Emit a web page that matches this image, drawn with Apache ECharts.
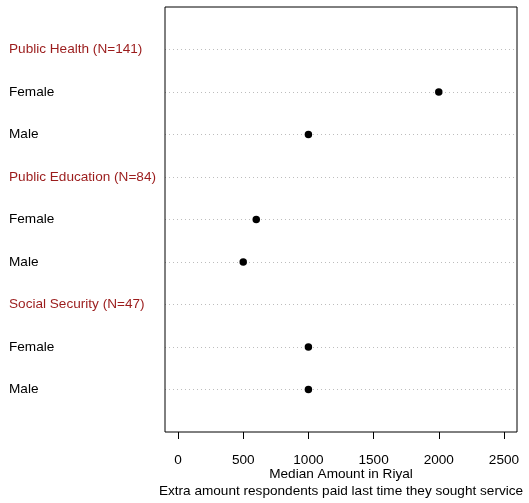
<!DOCTYPE html>
<html>
<head>
<meta charset="utf-8">
<script src="https://cdn.jsdelivr.net/npm/echarts@6/dist/echarts.min.js"></script>
<style>html,body{margin:0;padding:0;background:#fff;}#c{width:529px;height:503px;}</style>
</head>
<body>
<div id="c"></div>
<script>
const groups = ['Public Health (N=141)', 'Public Education (N=84)', 'Social Security (N=47)'];
const genders = ['Female', 'Male'];
const femaleValues = [2000, 600, 1000];
const maleValues = [1000, 500, 1000];
const xTicks = [0, 500, 1000, 1500, 2000, 2500];
const xTitle = 'Median Amount in Riyal';
const subTitle = 'Extra amount respondents paid last time they sought service';

// Build row layout (top to bottom): group header, Female, Male
const rowLabels = {};
const rowIsHeader = {};
const points = [];
const nRows = groups.length * 3;
groups.forEach((g, i) => {
  const top = nRows - i * 3;
  rowLabels[top] = g; rowIsHeader[top] = true;
  rowLabels[top - 1] = genders[0];
  rowLabels[top - 2] = genders[1];
  points.push([femaleValues[i], top - 1]);
  points.push([maleValues[i], top - 2]);
});
const yVals = Object.keys(rowLabels).map(Number);

const font = 'Liberation Sans, Arial, Helvetica, sans-serif';
const fs = 13.6;
const chart = echarts.init(document.getElementById('c'), null, {renderer: 'canvas'});
chart.setOption({
  animation: false,
  backgroundColor: '#fff',
  grid: {left: 165, top: 7, width: 352, height: 425, show: true, borderColor: '#000', borderWidth: 1, backgroundColor: 'transparent', z: 10},
  xAxis: {
    type: 'value', min: -100, max: 2600,
    axisLine: {show: false},
    axisTick: {show: true, customValues: xTicks, length: 7, inside: false, lineStyle: {color: '#000'}},
    axisLabel: {customValues: xTicks, margin: 21, fontSize: fs, color: '#000', fontFamily: font, formatter: v => String(v)},
    splitLine: {show: false}
  },
  yAxis: {
    type: 'value', min: 0, max: nRows + 1,
    axisLine: {show: false},
    axisTick: {show: false},
    axisLabel: {
      customValues: yVals, align: 'left', margin: 156, fontSize: fs, fontFamily: font,
      formatter: v => rowIsHeader[v] ? '{h|' + rowLabels[v] + '}' : '{n|' + rowLabels[v] + '}',
      rich: {
        h: {color: '#9b1c1c', fontSize: fs, fontFamily: font},
        n: {color: '#000', fontSize: fs, fontFamily: font}
      }
    },
    splitLine: {show: false}
  },
  series: [{
    type: 'scatter',
    data: points,
    symbol: 'circle', symbolSize: 7.5,
    itemStyle: {color: '#000', opacity: 1},
    z: 5,
    markLine: {
      silent: true, symbol: ['none', 'none'], label: {show: false},
      lineStyle: {color: '#bdbdbd', width: 1, type: [1, 3]},
      emphasis: {disabled: true},
      data: yVals.map(v => ({yAxis: v}))
    }
  }],
  graphic: [
    {type: 'text', x: 341, y: 474, style: {text: xTitle, font: fs + 'px ' + font, fill: '#000', textAlign: 'center', textVerticalAlign: 'middle'}},
    {type: 'text', x: 341, y: 491, style: {text: subTitle, font: fs + 'px ' + font, fill: '#000', textAlign: 'center', textVerticalAlign: 'middle'}}
  ]
});
</script>
</body>
</html>
